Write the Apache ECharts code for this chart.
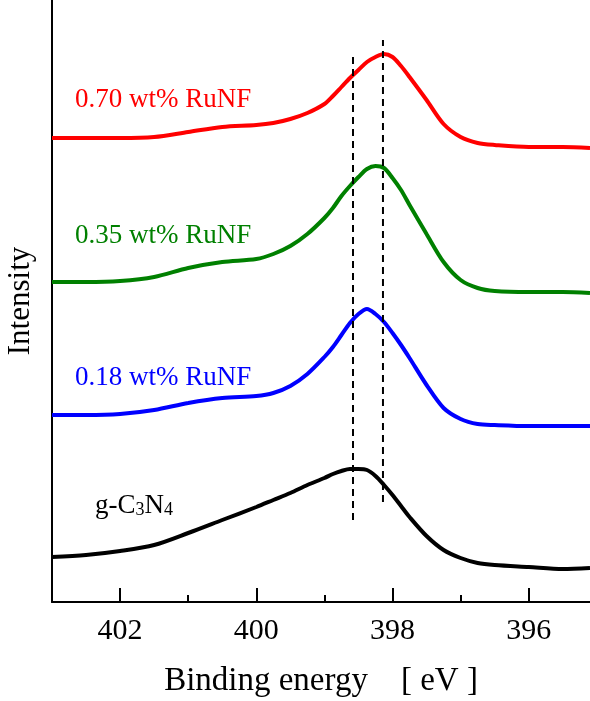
<!DOCTYPE html>
<html>
<head>
<meta charset="utf-8">
<script src="https://cdn.jsdelivr.net/npm/echarts@6/dist/echarts.min.js"></script>
<style>
  html, body { margin: 0; padding: 0; background: #fff; }
  #main { width: 590px; height: 701px; }
</style>
</head>
<body>
<div id="main"></div>
<script>
// binding energy (eV) grid
const energy = [403.0, 402.5, 402.0, 401.5, 401.0, 400.5, 400.0, 399.75, 399.5, 399.25, 399.0,
  398.875, 398.75, 398.625, 398.5, 398.375, 398.25, 398.125, 398.0, 397.875, 397.75,
  397.5, 397.25, 397.0, 396.75, 396.5, 396.0, 395.5, 395.1];

// intensities (arbitrary units, curves offset as in the figure)
const ru070 = [464, 464, 464, 465, 470, 475, 477, 479, 483, 489, 498, 506, 515, 524, 532, 540, 545, 548, 545, 536, 525, 502, 478, 465, 459, 457, 455, 455, 454];
const ru035 = [320, 320, 321, 325, 334, 340, 343, 348, 356, 368, 384, 394, 406, 416, 425, 433, 436, 434, 424, 412, 397, 368, 340, 322, 314, 311, 310, 310, 309];
const ru018 = [187, 187, 188, 192, 199, 204, 206, 209, 216, 228, 245, 255, 267, 279, 288, 293, 288, 280, 269, 257, 244, 217, 194, 183, 178, 177, 176, 176, 176];
const gcn = [45, 47, 51, 57, 69, 82, 95, 102, 109, 117, 124, 128, 131, 133, 133, 132, 126, 117, 107, 96, 85, 66, 52, 44, 39, 37, 35, 33, 34];

// peak guide lines: [energy, yFrom, yTo]
const guideA = [398.58, 82, 545];
const guideB = [398.14, 100, 562];

const majorTicks = [396, 398, 400, 402];
const minorTicks = [397, 399, 401];

const FONT = '"Liberation Serif", "DejaVu Serif", serif';

function pairs(ys) {
  return energy.map((e, i) => [e, ys[i]]);
}

const chart = echarts.init(document.getElementById('main'));

function curve(name, color, ys) {
  return {
    name: name,
    type: 'line',
    data: pairs(ys),
    smooth: 0.3,
    showSymbol: false,
    lineStyle: { color: color, width: 4 },
    z: 3
  };
}

function guide(g) {
  return {
    type: 'line',
    data: [[g[0], g[1]], [g[0], g[2]]],
    showSymbol: false,
    lineStyle: { color: '#000', width: 2, type: [7, 5] },
    z: 4
  };
}

const option = {
  animation: false,
  backgroundColor: '#fff',
  grid: { left: 52, right: 0, top: 0, bottom: 99, containLabel: false, outerBoundsMode: 'none' },
  xAxis: [
    {
      type: 'value',
      inverse: true,
      min: 395.1,
      max: 403,
      name: 'Binding energy    [ eV ]',
      nameLocation: 'middle',
      nameGap: 63,
      nameTextStyle: { fontFamily: FONT, fontSize: 33, color: '#000' },
      axisLine: { lineStyle: { color: '#000', width: 2 } },
      axisTick: { inside: true, length: 14, customValues: majorTicks, lineStyle: { color: '#000', width: 2 } },
      axisLabel: { customValues: majorTicks, fontFamily: FONT, fontSize: 30, color: '#000', margin: 14 },
      splitLine: { show: false }
    },
    {
      type: 'value',
      inverse: true,
      min: 395.1,
      max: 403,
      position: 'bottom',
      axisLine: { show: false },
      axisTick: { inside: true, length: 7, customValues: minorTicks, lineStyle: { color: '#000', width: 2 } },
      axisLabel: { show: false },
      splitLine: { show: false }
    }
  ],
  yAxis: {
    type: 'value',
    min: 0,
    max: 602,
    name: 'Intensity',
    nameLocation: 'middle',
    nameGap: 16,
    nameTextStyle: { fontFamily: FONT, fontSize: 31, color: '#000' },
    axisLine: { show: true, lineStyle: { color: '#000', width: 2 } },
    axisTick: { show: false },
    axisLabel: { show: false },
    splitLine: { show: false }
  },
  graphic: [
    { type: 'text', left: 75, top: 86, style: { text: '0.70 wt% RuNF', fill: '#ff0000', font: '27px ' + FONT } },
    { type: 'text', left: 75, top: 222, style: { text: '0.35 wt% RuNF', fill: '#008000', font: '27px ' + FONT } },
    { type: 'text', left: 75, top: 364, style: { text: '0.18 wt% RuNF', fill: '#0000ff', font: '27px ' + FONT } },
    {
      type: 'text', left: 95, top: 492,
      style: {
        text: 'g-C{s|3}N{s|4}',
        fill: '#000',
        font: '27px ' + FONT,
        rich: { s: { fontSize: 18, fontFamily: FONT, fill: '#000', padding: [10, 0, 0, 0] } }
      }
    }
  ],
  series: [
    curve('0.70 wt% RuNF', '#ff0000', ru070),
    curve('0.35 wt% RuNF', '#008000', ru035),
    curve('0.18 wt% RuNF', '#0000ff', ru018),
    curve('g-C3N4', '#000000', gcn),
    guide(guideA),
    guide(guideB)
  ]
};

chart.setOption(option);
</script>
</body>
</html>
